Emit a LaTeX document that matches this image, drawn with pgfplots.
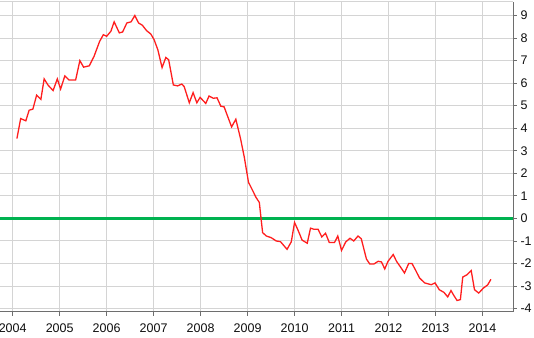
\documentclass[border=0pt]{standalone}
\usepackage{fontspec}
\setmainfont{Liberation Sans}
\usepackage{pgfplots}
\pgfplotsset{compat=1.18}
\usetikzlibrary{calc}
\definecolor{redline}{RGB}{255,30,30}
\definecolor{greenline}{RGB}{0,178,80}
\definecolor{gridc}{RGB}{212,212,212}
\definecolor{axc}{RGB}{110,110,110}
\definecolor{txt}{RGB}{15,15,15}
\begin{document}
\begin{tikzpicture}
\begin{axis}[name=ax, scale only axis, width=513pt, height=310pt,
  xmin=2003.73, xmax=2014.65, ymin=-4.15, ymax=9.6,
  axis x line*=bottom, axis y line*=right,
  xtick={2004,2005,2006,2007,2008,2009,2010,2011,2012,2013,2014},
  xticklabels={2004,2005,2006,2007,2008,2009,2010,2011,2012,2013,2014},
  ytick={-4,-3,-2,-1,0,1,2,3,4,5,6,7,8,9},
  yticklabels={-4,-3,-2,-1,0,1,2,3,4,5,6,7,8,9},
  grid=major, major grid style={gridc, line width=1pt},
  tick style={axc, line width=0.8pt}, major tick length=4pt, tick align=outside,
  axis line style={axc, line width=1pt},
  ticklabel style={font=\fontsize{12.5}{14}\selectfont, text=txt},
  xticklabel style={yshift=-4pt},
]
\draw[gridc, line width=1pt] (rel axis cs:0,1) -- (rel axis cs:1,1);
\addplot[greenline, line width=3pt] coordinates {(2003.73,0) (2014.65,0)};
\addplot[redline, line width=1.3pt] coordinates {
(2004.09,3.54) (2004.17,4.43) (2004.28,4.33) (2004.35,4.80) (2004.43,4.85)
(2004.51,5.47) (2004.60,5.28) (2004.67,6.19) (2004.75,5.92) (2004.86,5.67)
(2004.95,6.19) (2005.02,5.74) (2005.11,6.32) (2005.20,6.14) (2005.34,6.14)
(2005.43,7.00) (2005.51,6.71) (2005.63,6.77) (2005.73,7.18) (2005.85,7.85)
(2005.93,8.15) (2006.00,8.08) (2006.09,8.30) (2006.16,8.72) (2006.27,8.23)
(2006.34,8.27) (2006.43,8.67) (2006.52,8.72) (2006.60,9.00) (2006.68,8.67)
(2006.76,8.57) (2006.85,8.33) (2006.94,8.18) (2007.01,7.93) (2007.09,7.48)
(2007.18,6.69) (2007.26,7.14) (2007.32,7.04) (2007.42,5.92) (2007.51,5.88)
(2007.60,5.96) (2007.65,5.85) (2007.76,5.13) (2007.84,5.58) (2007.92,5.13)
(2007.99,5.37) (2008.11,5.10) (2008.18,5.43) (2008.27,5.33) (2008.35,5.35)
(2008.43,4.98) (2008.50,4.95) (2008.66,4.06) (2008.75,4.40) (2008.85,3.54)
(2008.93,2.72) (2009.02,1.60) (2009.11,1.23) (2009.18,0.93) (2009.25,0.71)
(2009.32,-0.63) (2009.40,-0.78) (2009.50,-0.85) (2009.61,-1.00) (2009.70,-1.03)
(2009.84,-1.37) (2009.93,-1.04) (2010.00,-0.18) (2010.08,-0.55) (2010.16,-0.96)
(2010.27,-1.10) (2010.34,-0.43) (2010.41,-0.48) (2010.50,-0.48) (2010.58,-0.82)
(2010.66,-0.66) (2010.74,-1.07) (2010.85,-1.07) (2010.92,-0.78) (2011.00,-1.42)
(2011.09,-1.04) (2011.18,-0.88) (2011.26,-1.00) (2011.35,-0.78) (2011.42,-0.90)
(2011.53,-1.80) (2011.60,-2.02) (2011.69,-2.02) (2011.78,-1.90) (2011.85,-1.93)
(2011.92,-2.24) (2011.99,-1.90) (2012.10,-1.60) (2012.17,-1.90) (2012.26,-2.17)
(2012.34,-2.42) (2012.43,-2.00) (2012.50,-2.00) (2012.57,-2.27) (2012.66,-2.64)
(2012.77,-2.86) (2012.91,-2.94) (2012.99,-2.86) (2013.08,-3.16) (2013.18,-3.28)
(2013.26,-3.48) (2013.33,-3.20) (2013.40,-3.45) (2013.46,-3.64) (2013.53,-3.60)
(2013.58,-2.60) (2013.67,-2.50) (2013.76,-2.31) (2013.83,-3.16) (2013.92,-3.31)
(2014.02,-3.09) (2014.11,-2.95) (2014.18,-2.70)
};
\end{axis}
\pgfresetboundingbox
\path[use as bounding box] ($(ax.south west)+(0pt,-26pt)$) rectangle ($(ax.north east)+(21pt,2pt)$);
\end{tikzpicture}
\end{document}
